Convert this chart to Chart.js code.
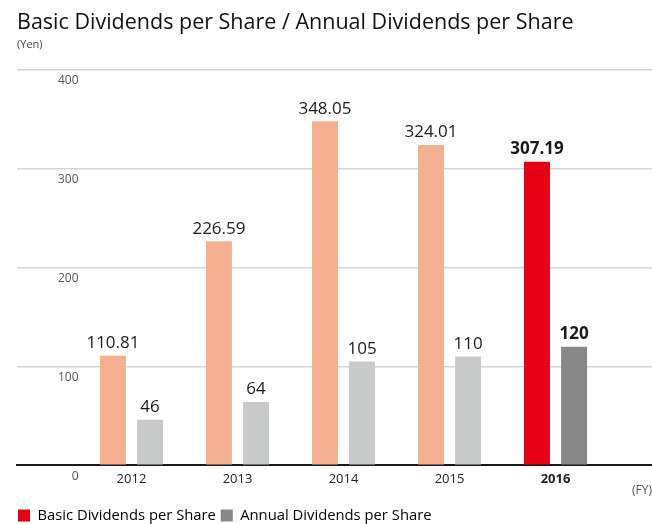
<!DOCTYPE html>
<html lang="en">
<head>
  <meta charset="UTF-8" />
  <title>Basic Dividends per Share / Annual Dividends per Share</title>
  <script src="https://cdn.jsdelivr.net/npm/chart.js"></script>
  <style>
    html, body { margin: 0; padding: 0; background: #fff; }
    #wrap { width: 652px; height: 524px; }
  </style>
</head>
<body>
  <div id="wrap"><canvas id="divChart"></canvas></div>

  <script>
    // data
    const years = [2012, 2013, 2014, 2015, 2016];
    const basicDividends = [110.81, 226.59, 348.05, 324.01, 307.19];
    const annualDividends = [46, 64, 105, 110, 120];
    const yTicks = [0, 100, 200, 300, 400];
    const latestYear = 2016;

    const FONT = "'Open Sans', sans-serif";
    const RED = '#e60012', ORANGE = '#f5b092', DARKGRAY = '#888888', LIGHTGRAY = '#c9caca';

    // numbers on top of each bar
    const valueLabels = {
      id: 'valueLabels',
      afterDatasetsDraw(chart) {
        const ctx = chart.ctx;
        ctx.save();
        ctx.textAlign = 'center';
        ctx.textBaseline = 'bottom';
        ctx.fillStyle = '#1a1a1a';
        chart.data.datasets.forEach((ds, di) => {
          chart.getDatasetMeta(di).data.forEach((bar, i) => {
            const bold = years[i] === latestYear;
            ctx.font = (bold ? '700 ' : '400 ') + '17px ' + FONT;
            ctx.fillText(ds.valueText[i], bar.x, bar.y - 4);
          });
        });
        ctx.restore();
      }
    };

    const ctx = document.getElementById('divChart').getContext('2d');
    new Chart(ctx, {
      type: 'bar',
      data: {
        datasets: [
          {
            label: 'Basic Dividends per Share',
            data: years.map((y, i) => ({ x: y, y: basicDividends[i] })),
            valueText: basicDividends.map(v => v.toFixed(2)),
            backgroundColor: years.map(y => y === latestYear ? RED : ORANGE),
            categoryPercentage: 0.7,
            barPercentage: 0.7
          },
          {
            label: 'Annual Dividends per Share',
            data: years.map((y, i) => ({ x: y, y: annualDividends[i] })),
            valueText: annualDividends.map(v => String(v)),
            backgroundColor: years.map(y => y === latestYear ? DARKGRAY : LIGHTGRAY),
            categoryPercentage: 0.7,
            barPercentage: 0.7
          }
        ]
      },
      options: {
        responsive: true,
        maintainAspectRatio: false,
        animation: false,
        // legend reserves 10px below itself, pull it down to the edge
        layout: { padding: { left: 17, right: 0, top: 0, bottom: -9 } },
        plugins: {
          title: {
            display: true,
            text: 'Basic Dividends per Share / Annual Dividends per Share',
            align: 'start',
            color: '#111',
            font: { family: FONT, size: 21.5, weight: '400' },
            padding: { top: 10, bottom: 2 }
          },
          subtitle: {
            display: true,
            text: '(Yen)',
            align: 'start',
            color: '#444',
            font: { family: FONT, size: 11 },
            padding: { top: 0, bottom: 19 }
          },
          legend: {
            position: 'bottom',
            align: 'start',
            labels: {
              boxWidth: 12,
              boxHeight: 12,
              padding: 1,
              color: '#333',
              font: { family: FONT, size: 14.8, lineHeight: 1 },
              generateLabels: () => [
                { text: 'Basic Dividends per Share ', fillStyle: RED, strokeStyle: RED, lineWidth: 0, datasetIndex: 0 },
                { text: 'Annual Dividends per Share', fillStyle: DARKGRAY, strokeStyle: DARKGRAY, lineWidth: 0, datasetIndex: 1 }
              ]
            }
          },
          tooltip: { enabled: false }
        },
        scales: {
          x: {
            type: 'linear',
            offset: false,
            min: 2010.92,
            max: 2016.91,
            grid: { display: false, drawTicks: false },
            border: { color: '#1a1a1a', width: 2 },
            afterBuildTicks: s => { s.ticks = years.map(v => ({ value: v })); },
            ticks: {
              padding: 6,
              color: '#222',
              callback: v => String(v),
              font: c => ({ family: FONT, size: 13, weight: c.tick && c.tick.value === latestYear ? '700' : '400' })
            },
            title: {
              display: true,
              text: '(FY)',
              align: 'end',
              color: '#555',
              font: { family: FONT, size: 12 },
              padding: { top: -9, bottom: 9 }
            }
          },
          y: {
            min: 0,
            max: 400,
            afterFit: s => { s.width = 0; },
            afterBuildTicks: s => { s.ticks = yTicks.map(v => ({ value: v })); },
            border: { display: false },
            grid: {
              drawTicks: false,
              lineWidth: 1.5,
              color: c => c.tick && c.tick.value === 0 ? 'rgba(0,0,0,0)' : '#d6d6d6'
            },
            ticks: {
              mirror: true,
              crossAlign: 'far',
              padding: 41,
              labelOffset: 11,
              color: '#555',
              font: { family: FONT, size: 12 }
            }
          }
        }
      },
      plugins: [valueLabels]
    });
  </script>
</body>
</html>
